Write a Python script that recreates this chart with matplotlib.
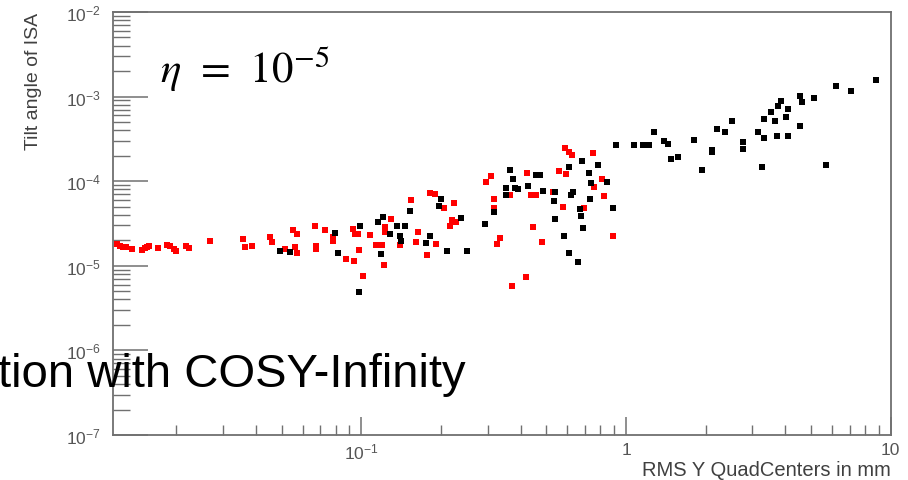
import matplotlib as mpl
mpl.use('Agg')
import matplotlib.pyplot as plt
from matplotlib.ticker import FixedLocator, FixedFormatter, LogLocator, NullFormatter

mpl.rcParams['font.family'] = ['Liberation Sans', 'DejaVu Sans']
mpl.rcParams['mathtext.fontset'] = 'custom'
mpl.rcParams['mathtext.rm'] = 'Liberation Sans'
mpl.rcParams['mathtext.it'] = 'Liberation Sans:italic'
mpl.rcParams['mathtext.bf'] = 'Liberation Sans:bold'

# red series
red_x = [0.0119, 0.0122, 0.0126, 0.0129, 0.0136, 0.0148, 0.0152, 0.0155, 0.0158, 0.0171,
         0.0184, 0.0189, 0.0195, 0.0199, 0.0217, 0.0224, 0.0268, 0.0357, 0.0363, 0.0385,
         0.0451, 0.0458, 0.0514, 0.0552, 0.0560, 0.0569, 0.0572, 0.0667, 0.0676, 0.0672,
         0.0727, 0.0778, 0.0782, 0.0873, 0.0938, 0.0930, 0.0944, 0.0971, 0.0979, 0.1014,
         0.1075, 0.1132, 0.1196, 0.1214, 0.1298, 0.1232, 0.1224, 0.1395, 0.1544, 0.1635,
         0.1603, 0.1907, 0.1768, 0.1811, 0.1891, 0.2045, 0.2230, 0.2205, 0.2283, 0.2154,
         0.2945, 0.3075, 0.3649, 0.3156, 0.3156, 0.3326, 0.3261, 0.4195, 0.3701, 0.4217,
         0.4380, 0.4547, 0.4441, 0.4803, 0.5285, 0.5601, 0.5938, 0.5766, 0.5852, 0.6109,
         0.6255, 0.6961, 0.7482, 0.7591, 0.8120, 0.8282, 0.8901]
red_y = [1.81e-5, 1.73e-5, 1.69e-5, 1.66e-5, 1.58e-5, 1.55e-5, 1.61e-5, 1.66e-5, 1.73e-5, 1.62e-5,
         1.76e-5, 1.70e-5, 1.58e-5, 1.51e-5, 1.73e-5, 1.61e-5, 1.98e-5, 2.07e-5, 1.66e-5, 1.73e-5,
         2.17e-5, 1.93e-5, 1.58e-5, 2.67e-5, 1.66e-5, 1.42e-5, 2.38e-5, 2.93e-5, 1.73e-5, 1.58e-5,
         2.65e-5, 2.17e-5, 1.98e-5, 1.20e-5, 1.15e-5, 2.72e-5, 2.38e-5, 2.38e-5, 1.55e-5, 7.64e-6,
         2.31e-5, 1.78e-5, 1.78e-5, 1.02e-5, 3.57e-5, 2.85e-5, 2.49e-5, 1.76e-5, 6.04e-5, 2.53e-5,
         1.93e-5, 1.81e-5, 1.35e-5, 7.25e-5, 7.06e-5, 4.78e-5, 5.58e-5, 3.52e-5, 3.30e-5, 2.98e-5,
         9.71e-5, 1.14e-4, 6.87e-5, 6.16e-5, 4.78e-5, 2.13e-5, 1.81e-5, 7.43e-6, 5.73e-6, 1.24e-4,
         6.87e-5, 6.87e-5, 2.85e-5, 1.90e-5, 7.39e-5, 1.31e-4, 1.22e-4, 5.0e-5, 2.47e-4, 2.23e-4,
         2.06e-4, 4.78e-5, 2.15e-4, 8.61e-5, 1.06e-4, 6.75e-5, 2.27e-5]

# black series
blk_x = [0.0492, 0.0537, 0.0793, 0.0812, 0.0991, 0.0979, 0.1190, 0.1155, 0.1206, 0.1279,
         0.1362, 0.1457, 0.1403, 0.1407, 0.1531, 0.1811, 0.1759, 0.2004, 0.1957, 0.2370,
         0.2112, 0.2503, 0.2920, 0.3627, 0.3734, 0.3504, 0.3789, 0.3899, 0.3504, 0.3156,
         0.4254, 0.4575, 0.4708, 0.4874, 0.5410, 0.5363, 0.6073, 0.5410, 0.5816, 0.6109,
         0.6566, 0.6823, 0.6288, 0.6202, 0.6706, 0.6765, 0.6859, 0.7813, 0.7223, 0.7375,
         0.8449, 0.7331, 0.8956, 0.9168, 1.075, 1.155, 1.190, 1.217, 1.279, 1.395,
         1.435, 1.478, 1.576, 1.810, 1.929, 2.104, 2.104, 2.205, 2.370, 2.503,
         2.754, 2.771, 3.138, 3.326, 3.261, 3.326, 3.526, 3.734, 3.846, 3.659,
         4.017, 4.073, 3.714, 4.073, 4.548, 4.616, 4.548, 5.136, 5.685, 6.202,
         7.101, 8.825]
blk_y = [1.51e-5, 1.44e-5, 2.44e-5, 1.42e-5, 2.98e-5, 4.9e-6, 1.38e-5, 3.27e-5, 3.74e-5, 2.38e-5,
         2.98e-5, 2.98e-5, 2.27e-5, 1.98e-5, 4.48e-5, 2.27e-5, 1.86e-5, 6.16e-5, 5.05e-5, 3.64e-5,
         1.51e-5, 1.51e-5, 3.12e-5, 1.37e-4, 1.06e-4, 8.25e-5, 8.25e-5, 8.09e-5, 6.87e-5, 4.29e-5,
         8.71e-5, 1.18e-4, 1.18e-4, 7.72e-5, 7.51e-5, 5.88e-5, 1.48e-4, 3.57e-5, 2.27e-5, 1.40e-5,
         1.12e-5, 1.72e-4, 7.39e-5, 6.87e-5, 4.69e-5, 3.85e-5, 2.80e-5, 1.55e-4, 1.24e-4, 9.52e-5,
         9.71e-5, 6.16e-5, 4.78e-5, 2.68e-4, 2.68e-4, 2.68e-4, 2.68e-4, 2.68e-4, 3.82e-4, 3.01e-4,
         2.75e-4, 1.83e-4, 1.95e-4, 3.07e-4, 1.37e-4, 2.36e-4, 2.23e-4, 4.14e-4, 3.79e-4, 5.19e-4,
         2.88e-4, 2.40e-4, 3.79e-4, 3.24e-4, 1.46e-4, 5.43e-4, 6.63e-4, 7.68e-4, 8.80e-4, 5.11e-4,
         5.69e-4, 7.13e-4, 3.45e-4, 3.45e-4, 1.01e-3, 8.57e-4, 4.46e-4, 9.62e-4, 1.55e-4, 1.35e-3,
         1.17e-3, 1.58e-3]

x_ticks = [0.1, 1, 10]
x_ticklabels = [r'$10^{-1}$', '1', '10']
y_ticks = [1e-7, 1e-6, 1e-5, 1e-4, 1e-3, 1e-2]
y_ticklabels = [r'$10^{-7}$', r'$10^{-6}$', r'$10^{-5}$', r'$10^{-4}$', r'$10^{-3}$', r'$10^{-2}$']

fig = plt.figure(figsize=(9.08, 4.81), dpi=100)
ax = fig.add_axes([0.1245, 0.0936, 0.8565, 0.8794])

ax.plot(red_x, red_y, 's', color='#ff0000', ms=3.8, mew=0)
ax.plot(blk_x, blk_y, 's', color='black', ms=3.8, mew=0)

ax.set_xscale('log')
ax.set_yscale('log')
ax.set_xlim(0.01152, 10)
ax.set_ylim(1e-7, 1e-2)

frame_c = '#707070'
for s in ax.spines.values():
    s.set_color(frame_c)
    s.set_linewidth(1.3)

ax.xaxis.set_major_locator(FixedLocator(x_ticks))
ax.xaxis.set_major_formatter(FixedFormatter(x_ticklabels))
ax.xaxis.set_minor_locator(LogLocator(base=10, subs=range(2, 10), numticks=20))
ax.xaxis.set_minor_formatter(NullFormatter())
ax.yaxis.set_major_locator(FixedLocator(y_ticks))
ax.yaxis.set_major_formatter(FixedFormatter(y_ticklabels))
ax.yaxis.set_minor_locator(LogLocator(base=10, subs=range(2, 10), numticks=20))
ax.yaxis.set_minor_formatter(NullFormatter())

ax.tick_params(axis='both', which='both', direction='in', top=False, right=False,
               color=frame_c, labelcolor='#555555', labelsize=12.5)
ax.tick_params(axis='y', which='major', length=25, width=1.1, pad=9)
ax.tick_params(axis='y', which='minor', length=12, width=1.0)
ax.tick_params(axis='x', which='major', length=13, width=1.1, pad=5)
ax.tick_params(axis='x', which='minor', length=7, width=1.0)

fig.text(33 / 908, 1 - 13 / 481, 'Tilt angle of ISA', rotation=90, ha='center', va='top',
         fontsize=14, color='#404040')
fig.text(890.7 / 908, 1 - 476.5 / 481, 'RMS Y QuadCenters in mm', ha='right', va='baseline',
         fontsize=14.5, color='#404040')

fig.text(160 / 908, 1 - 83 / 481, r'$\eta\;\,=\;\,10^{-5}$', ha='left', va='baseline',
         fontsize=31, color='black', math_fontfamily='stix')
fig.text(466 / 908, 1 - 386.7 / 481, 'tion with COSY-Infinity', ha='right', va='baseline',
         fontsize=34, color='black')

fig.savefig('out.png', dpi=100)
